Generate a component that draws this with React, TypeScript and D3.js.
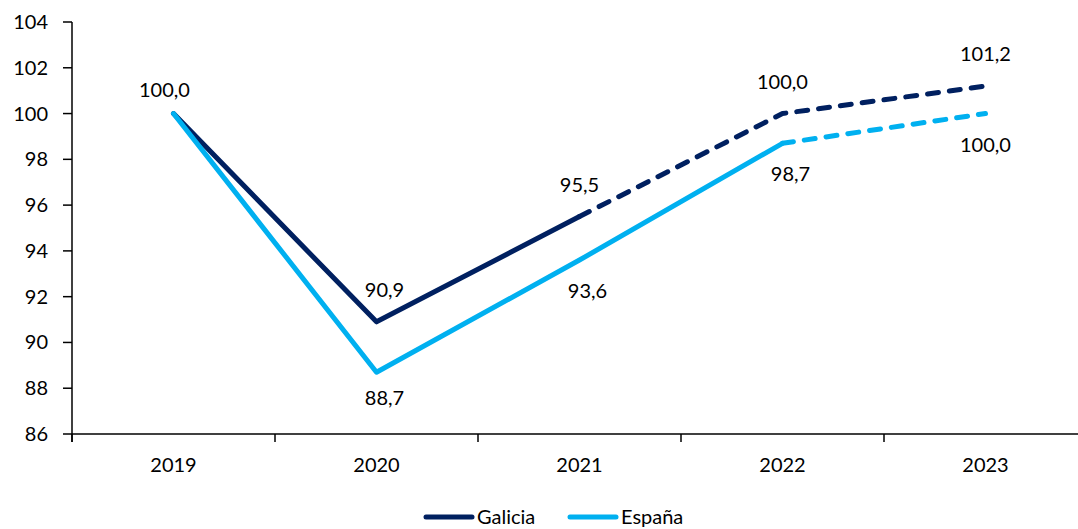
import * as React from "react";
import * as d3 from "d3";

const years = ["2019", "2020", "2021", "2022", "2023"];
const galicia = [100.0, 90.9, 95.5, 100.0, 101.2];
const espana = [100.0, 88.7, 93.6, 98.7, 100.0];
// index of the last point drawn with a solid line (rest are forecasts, dashed)
const galiciaSolidEnd = 2;
const espanaSolidEnd = 3;
const yTicks = [86, 88, 90, 92, 94, 96, 98, 100, 102, 104];

const W = 1078;
const H = 529;
const margin = { left: 72, top: 22, right: -9, bottom: 95 };
const font = "Lato, 'Open Sans', sans-serif";
const fs = 20;

interface Series {
    name: string;
    values: number[];
    solidEnd: number;
    color: string;
    labelPos: "above" | "below";
}

const series: Series[] = [
    { name: "Galicia", values: galicia, solidEnd: galiciaSolidEnd, color: "#002060", labelPos: "above" },
    { name: "España", values: espana, solidEnd: espanaSolidEnd, color: "#00B0F0", labelPos: "below" },
];

export default function App() {
    const x = d3.scalePoint<string>().domain(years).range([margin.left, W - margin.right]).padding(0.5);
    const y = d3.scaleLinear().domain([86, 104]).range([H - margin.bottom, margin.top]);
    const step = x.step();
    const line = d3.line<[number, number]>().x(d => d[0]).y(d => d[1]);
    const fmt = (v: number) => v.toFixed(1).replace(".", ",");

    const boundaries = years.map(yr => (x(yr) as number) - step / 2);
    const x0 = margin.left;
    const yBase = y(86);

    return (
        <div style={{ position: "absolute", left: 0, top: 0 }}>
            <svg width={W} height={H} style={{ display: "block" }} fontFamily={font}>
                <rect width={W} height={H} fill="#fff" />
                {/* y axis */}
                <line x1={x0} x2={x0} y1={y(104)} y2={yBase + 8} stroke="#000" strokeWidth={1.5} />
                {yTicks.map(t => (
                    <g key={t}>
                        <line x1={x0 - 9} x2={x0} y1={y(t)} y2={y(t)} stroke="#000" strokeWidth={1.5} />
                        <text x={48} y={y(t)} dy="0.35em" textAnchor="end" fontSize={fs} fill="#000">{t}</text>
                    </g>
                ))}
                {/* x axis */}
                <line x1={x0} x2={W} y1={yBase} y2={yBase} stroke="#000" strokeWidth={1.5} />
                {boundaries.map((b, i) => (
                    <line key={i} x1={b} x2={b} y1={yBase} y2={yBase + 8} stroke="#000" strokeWidth={1.5} />
                ))}
                {years.map(yr => (
                    <text key={yr} x={x(yr)} y={472} textAnchor="middle" fontSize={fs} fill="#000">{yr}</text>
                ))}
                {/* lines */}
                {series.map(s => {
                    const pts: [number, number][] = s.values.map((v, i) => [x(years[i]) as number, y(v)]);
                    const solid = pts.slice(0, s.solidEnd + 1);
                    const dashed = pts.slice(s.solidEnd);
                    return (
                        <g key={s.name}>
                            <path d={line(solid) || ""} fill="none" stroke={s.color} strokeWidth={5} strokeLinecap="round" strokeLinejoin="round" />
                            <path d={line(dashed) || ""} fill="none" stroke={s.color} strokeWidth={5} strokeLinecap="round" strokeLinejoin="round" strokeDasharray="11,11" />
                        </g>
                    );
                })}
                {/* data labels */}
                {series.map(s =>
                    s.values.map((v, i) => {
                        if (s.name === "España" && i === 0) return null;
                        const px = x(years[i]) as number;
                        const py = y(v);
                        const dx = i === 0 ? -9 : i === 1 ? 8 : i === 2 && s.labelPos === "below" ? 8 : i === 3 && s.labelPos === "below" ? 8 : 0;
                        const ty = s.labelPos === "above" ? py - (i === 0 ? 17 : 25) : py + (i === 1 ? 33 : 38);
                        return (
                            <text key={s.name + i} x={px + dx} y={ty} textAnchor="middle" fontSize={fs} fill="#000">{fmt(v)}</text>
                        );
                    })
                )}
                {/* legend */}
                {series.map((s, i) => {
                    const lx = i === 0 ? 426 : 570;
                    return (
                        <g key={s.name}>
                            <line x1={lx} x2={lx + 46} y1={517} y2={517} stroke={s.color} strokeWidth={5} strokeLinecap="round" />
                            <text x={lx + 51} y={524} fontSize={fs} fill="#000">{s.name}</text>
                        </g>
                    );
                })}
            </svg>
        </div>
    );
}
